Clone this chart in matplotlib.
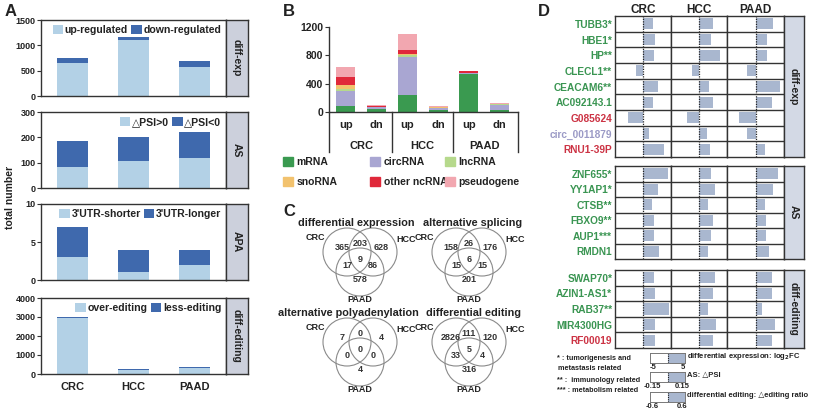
import numpy as np
import matplotlib.pyplot as plt
import matplotlib.transforms as mtransforms
from matplotlib.patches import Circle, Patch

plt.rcParams['font.family'] = ['Liberation Sans', 'DejaVu Sans']
plt.rcParams['font.weight'] = 'bold'
plt.rcParams['axes.titleweight'] = 'bold'
plt.rcParams['axes.linewidth'] = 1.0
plt.rcParams['axes.edgecolor'] = '#333333'
plt.rcParams['text.color'] = '#222222'
plt.rcParams['xtick.color'] = '#333333'
plt.rcParams['ytick.color'] = '#333333'
plt.rcParams['xtick.labelcolor'] = '#222222'
plt.rcParams['ytick.labelcolor'] = '#222222'

#======================================
#           data
#======================================
cancers = ['CRC', 'HCC', 'PAAD']

# panel A
de_up, de_dn = [650, 1100, 580], [95, 65, 120]
as_pos, as_neg = [82, 105, 118], [103, 95, 104]
apa_short, apa_long = [3, 1, 2], [4, 3, 2]
ed_over, ed_less = [2950, 200, 340], [25, 40, 18]

# panel B
b_updn = ['up', 'dn'] * 3
b_types = ['mRNA', 'circRNA', 'lncRNA', 'snoRNA', 'other ncRNA', 'pseudogene']
b_mrna = [86, 45, 233, 30, 540, 30]
b_circ = [214, 20, 543, 25, 5, 70]
b_lnc = [20, 5, 34, 5, 5, 10]
b_sno = [60, 5, 10, 5, 3, 3]
b_other = [115, 5, 56, 5, 20, 2]
b_pseudo = [135, 15, 219, 15, 10, 10]

# panel C: CRC only, CRC&HCC, HCC only, all, CRC&PAAD, HCC&PAAD, PAAD only
venn_titles = ['differential expression', 'alternative splicing',
               'alternative polyadenylation', 'differential editing']
venn_de = [365, 203, 628, 9, 17, 86, 578]
venn_as = [158, 26, 176, 6, 15, 15, 201]
venn_apa = [7, 0, 4, 0, 0, 0, 4]
venn_ed = [2826, 111, 120, 5, 33, 4, 316]

# panel D
genes_exp = ['TUBB3*', 'HBE1*', 'HP**', 'CLECL1**', 'CEACAM6**', 'AC092143.1',
             'G085624', 'circ_0011879', 'RNU1-39P']
gcol_exp = ['g'] * 6 + ['r', 'p', 'r']
fc_crc = [2.9, 3.4, 3.1, -2.0, 4.3, 2.9, -4.3, 1.7, 6.0]
fc_hcc = [4.0, 3.4, 6.0, -2.0, 2.9, 4.0, -3.4, 2.3, 3.1]
fc_paad = [4.9, 3.1, 3.1, -2.3, 6.9, 4.6, -4.6, -2.3, 2.6]

genes_as = ['ZNF655*', 'YY1AP1*', 'CTSB**', 'FBXO9**', 'AUP1***', 'RMDN1']
gcol_as = ['g'] * 6
psi_crc = [0.21, 0.13, 0.08, 0.09, 0.09, 0.14]
psi_hcc = [0.10, 0.14, 0.08, 0.12, 0.10, 0.08]
psi_paad = [0.19, 0.15, 0.08, 0.09, 0.09, 0.11]

genes_ed = ['SWAP70*', 'AZIN1-AS1*', 'RAB37**', 'MIR4300HG', 'RF00019']
gcol_ed = ['g'] * 4 + ['r']
er_crc = [0.38, 0.41, 0.89, 0.41, 0.41]
er_hcc = [0.55, 0.48, 0.31, 0.58, 0.48]
er_paad = [0.55, 0.55, 0.21, 0.65, 0.55]

#======================================
#           figure
#======================================
W, H = 827, 413
fig = plt.figure(figsize=(W / 100, H / 100), dpi=100)


def px_axes(x0, y0, x1, y1):
    return fig.add_axes([x0 / W, 1 - y1 / H, (x1 - x0) / W, (y1 - y0) / H])


def strip(x0, y0, x1, y1, label, color):
    sx = px_axes(x0, y0, x1, y1)
    sx.set_facecolor(color)
    sx.set_xticks([])
    sx.set_yticks([])
    sx.text(0.5, 0.5, label, rotation=-90, ha='center', va='center',
            fontsize=7.5, transform=sx.transAxes)


c_light, c_dark = '#b3d1e6', '#3f69ad'

#------------panel A-------------------
a_panels = [('diff-exp', de_up, de_dn, ['up-regulated', 'down-regulated'], [0, 500, 1000, 1500]),
            ('AS', as_pos, as_neg, ['\u25b3PSI>0', '\u25b3PSI<0'], [0, 100, 200, 300]),
            ('APA', apa_short, apa_long, ["3'UTR-shorter", "3'UTR-longer"], [0, 5, 10]),
            ('diff-editing', ed_over, ed_less, ['over-editing', 'less-editing'], [0, 1000, 2000, 3000, 4000])]
a_rows = [(20, 96), (112, 188), (204, 280), (298, 374)]
x = np.arange(3)
for i, ((lab, lo, hi, names, yt), (y0, y1)) in enumerate(zip(a_panels, a_rows)):
    ax = px_axes(41, y0, 226, y1)
    ax.bar(x, lo, 0.5, color=c_light, label=names[0])
    ax.bar(x, hi, 0.5, bottom=lo, color=c_dark, label=names[1])
    ax.set_xlim(-0.52, 2.52)
    ax.set_ylim(0, yt[-1])
    ax.set_yticks(yt)
    ax.tick_params(axis='y', labelsize=6.5, length=3, pad=1)
    if i == 3:
        ax.set_xticks(x)
        ax.set_xticklabels(cancers, fontsize=8)
        ax.tick_params(axis='x', length=0, pad=6)
    else:
        ax.set_xticks([])
    ax.legend(loc='upper right', ncol=2, frameon=False, fontsize=7.6,
              handlelength=1.0, handleheight=1.0, handletextpad=0.15,
              columnspacing=0.3, borderaxespad=0.25, borderpad=0.2)
    strip(226, y0, 248, y1, lab, '#ccd0dc')
fig.text(10 / W, 1 - 197 / H, 'total number', rotation=90, ha='center', va='center', fontsize=7.5)
fig.text(5 / W, 1 - 11 / H, 'A', fontsize=12, ha='left', va='center')

#------------panel B-------------------
b_colors = ['#3a9a50', '#a9a6d2', '#b6d98c', '#f2c26e', '#e0283a', '#f2a7b0']
axb = px_axes(329, 27, 518, 112)
pos = np.arange(6)
bottom = np.zeros(6)
b_handles = []
for vals, col, name in zip([b_mrna, b_circ, b_lnc, b_sno, b_other, b_pseudo], b_colors, b_types):
    axb.bar(pos, vals, 0.62, bottom=bottom, color=col)
    bottom += np.array(vals)
    b_handles.append(Patch(color=col, label=name))
axb.set_xlim(-0.55, 5.6)
axb.set_ylim(0, 1200)
axb.set_yticks([0, 400, 800, 1200])
axb.tick_params(axis='y', labelsize=7.5, length=3, pad=1)
axb.set_xticks([])
axb.spines['top'].set_visible(False)
axb.spines['right'].set_visible(False)
trb = mtransforms.blended_transform_factory(axb.transData, axb.transAxes)
for xs in [-0.55, 1.5, 3.5, 5.6]:
    axb.plot([xs, xs], [0, -0.47], transform=trb, clip_on=False, color='#333333', lw=1)
for p, lab in zip(pos, b_updn):
    axb.text(p, -0.15, lab, transform=trb, ha='center', va='center', fontsize=8)
for k, lab in enumerate(cancers):
    axb.text(2 * k + 0.5, -0.40, lab, transform=trb, ha='center', va='center', fontsize=8)
b_cols_x = [283, 370, 445]
for k in range(3):
    fig.legend(handles=[b_handles[k], b_handles[k + 3]], loc='upper left',
               bbox_to_anchor=(b_cols_x[k] / W, 1 - 157 / H), frameon=False,
               fontsize=7.5, handlelength=1.0, handleheight=1.0, handletextpad=0.3,
               labelspacing=0.95, borderpad=0, borderaxespad=0)
fig.text(283 / W, 1 - 11 / H, 'B', fontsize=12, ha='left', va='center')

#------------panel C-------------------
axc = px_axes(280, 200, 530, 405)
axc.set_xlim(280, 530)
axc.set_ylim(405, 200)
axc.axis('off')
venn_centers = [(360, 252), (469, 252), (360, 342), (469, 342)]
venn_title_x = [356, 473, 348, 474]
num_offsets = [(-18, -5), (0, -9), (21, -5), (0, 7), (-13, 14), (13, 14), (0, 28)]
r = 24
for counts, title, (cx, cy), tx in zip([venn_de, venn_as, venn_apa, venn_ed], venn_titles,
                                       venn_centers, venn_title_x):
    for ccx, ccy in [(cx - 13, cy), (cx + 13, cy), (cx, cy + 20)]:
        axc.add_patch(Circle((ccx, ccy), r, fill=False, ec='#8a8a8a', lw=0.8))
    for n, (dx, dy) in zip(counts, num_offsets):
        axc.text(cx + dx, cy + dy, str(n), ha='center', va='center', fontsize=6.5, color='#333333')
    axc.text(tx, cy - 29, title, ha='center', va='center', fontsize=7.8)
    axc.text(cx - 45, cy - 14, 'CRC', ha='center', va='center', fontsize=6.5)
    axc.text(cx + 46, cy - 13, 'HCC', ha='center', va='center', fontsize=6.5)
    axc.text(cx, cy + 47, 'PAAD', ha='center', va='center', fontsize=6.5)
fig.text(283 / W, 1 - 212 / H, 'C', fontsize=12, ha='left', va='center')

#------------panel D-------------------
gene_colors = {'g': '#3a9552', 'r': '#cc3344', 'p': '#9b9ac6'}
bar_c = '#a9b7cf'
d_groups = [('diff-exp', genes_exp, gcol_exp, [fc_crc, fc_hcc, fc_paad], 8.0, (16, 157)),
            ('AS', genes_as, gcol_as, [psi_crc, psi_hcc, psi_paad], 0.24, (166, 259)),
            ('diff-editing', genes_ed, gcol_ed, [er_crc, er_hcc, er_paad], 0.96, (270, 348))]
d_cols = [615, 671, 727, 784]
for g, (lab, genes, gcols, series, lim, (y0, y1)) in enumerate(d_groups):
    n = len(genes)
    for j, vals in enumerate(series):
        ax = px_axes(d_cols[j], y0, d_cols[j + 1], y1)
        ax.barh(np.arange(n), vals, height=0.72, color=bar_c)
        ax.set_xlim(-lim, lim)
        ax.set_ylim(n - 0.5, -0.5)
        ax.axvline(0, color='#222222', ls=(0, (1, 1)), lw=0.9)
        for k in range(1, n):
            ax.axhline(k - 0.5, color='#333333', lw=1)
        ax.set_xticks([])
        if j == 0:
            ax.set_yticks(np.arange(n))
            ax.set_yticklabels(genes, fontsize=7.3)
            for t, c in zip(ax.get_yticklabels(), gcols):
                t.set_color(gene_colors[c])
            ax.tick_params(axis='y', length=0, pad=2)
        else:
            ax.set_yticks([])
        if g == 0:
            ax.set_title(cancers[j], fontsize=8.5, pad=1.5)
    strip(784, y0, 804, y1, lab, '#d3d9e5')
fig.text(538 / W, 1 - 11 / H, 'D', fontsize=12, ha='left', va='center')

# footnotes
fig.text(557 / W, 1 - 359 / H, '* : tumorigenesis and', fontsize=5.2, ha='left', va='center')
fig.text(590 / W, 1 - 369 / H, 'metastasis related', fontsize=5.2, ha='center', va='center')
fig.text(557 / W, 1 - 380 / H, '** :  immunology related', fontsize=5.2, ha='left', va='center')
fig.text(557 / W, 1 - 390 / H, '*** : metabolism related', fontsize=5.2, ha='left', va='center')

# scale keys
key_lims = [5, 0.15, 0.6]
key_labels = [['-5', '5'], ['-0.15', '0.15'], ['-0.6', '0.6']]
key_text = ['differential expression: log$_\\mathbf{2}$FC', 'AS: \u25b3PSI',
            'differential editing: \u25b3editing ratio']
key_rows = [(353, 363), (372, 382), (392, 402)]
for lim, labs, txt, (y0, y1) in zip(key_lims, key_labels, key_text, key_rows):
    ax = px_axes(650, y0, 685, y1)
    ax.barh([0], [lim], height=1.0, color=bar_c)
    ax.set_xlim(-lim, lim)
    ax.set_ylim(-0.5, 0.5)
    ax.axvline(0, color='#222222', ls=(0, (1, 1)), lw=0.8)
    ax.set_yticks([])
    ax.set_xticks([-lim * 0.85, lim * 0.85])
    ax.set_xticklabels(labs, fontsize=5.5)
    ax.tick_params(axis='x', length=0, pad=0.5)
    for s in ax.spines.values():
        s.set_color('#777777')
        s.set_linewidth(0.7)
    fig.text(687 / W, 1 - (y0 + y1) / 2 / H + 0.004, txt, fontsize=5.5, ha='left', va='center')

fig.savefig('out.png', dpi=100)
